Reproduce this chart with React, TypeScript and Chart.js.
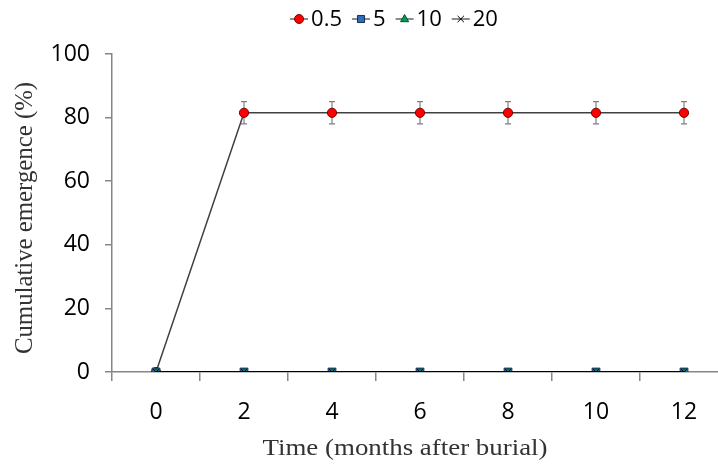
import React, { useEffect, useRef } from 'react';
import { Chart, registerables } from 'chart.js';

Chart.register(...registerables);

const categories = ['0', '2', '4', '6', '8', '10', '12'];
const seriesNames = ['0.5', '5', '10', '20'];
const values05 = [0, 81.5, 81.5, 81.5, 81.5, 81.5, 81.5];
const errors05 = [0, 3.5, 3.5, 3.5, 3.5, 3.5, 3.5];
const values5 = [0, 0, 0, 0, 0, 0, 0];
const values10 = [0, 0, 0, 0, 0, 0, 0];
const values20 = [0, 0, 0, 0, 0, 0, 0];
const yTicks = [0, 20, 40, 60, 80, 100];
const xTitle = 'Time (months after burial)';
const yTitle = 'Cumulative emergence (%)';

const TICK_FONT = '"Open Sans", "Noto Sans", sans-serif';
const TITLE_FONT = '"Liberation Serif", "DejaVu Serif", serif';
const AXIS_GRAY = '#868686';

function drawMarker(ctx: CanvasRenderingContext2D, style: string, x: number, y: number, r: number, fill: string, stroke: string) {
  ctx.save();
  ctx.fillStyle = fill;
  ctx.strokeStyle = stroke;
  ctx.lineWidth = 1;
  ctx.beginPath();
  if (style === 'circle') {
    ctx.arc(x, y, r, 0, Math.PI * 2);
    ctx.fill();
    ctx.stroke();
  } else if (style === 'rect') {
    const s = r * Math.SQRT1_2;
    ctx.rect(x - s, y - s, 2 * s, 2 * s);
    ctx.fill();
    ctx.stroke();
  } else if (style === 'triangle') {
    ctx.moveTo(x, y - r);
    ctx.lineTo(x + r * 0.9, y + r * 0.6);
    ctx.lineTo(x - r * 0.9, y + r * 0.6);
    ctx.closePath();
    ctx.fill();
    ctx.stroke();
  } else if (style === 'crossRot') {
    const s = r * Math.SQRT1_2;
    ctx.moveTo(x - s, y - s);
    ctx.lineTo(x + s, y + s);
    ctx.moveTo(x + s, y - s);
    ctx.lineTo(x - s, y + s);
    ctx.stroke();
  }
  ctx.restore();
}

const errorBarPlugin = {
  id: 'errorBars',
  beforeDatasetsDraw(chart: any) {
    const meta = chart.getDatasetMeta(0);
    const yScale = chart.scales.y;
    const ctx = chart.ctx;
    ctx.save();
    ctx.strokeStyle = '#808080';
    ctx.lineWidth = 1.2;
    meta.data.forEach((pt: any, i: number) => {
      const e = errors05[i];
      if (!e) return;
      const v = values05[i];
      const yTop = yScale.getPixelForValue(v + e);
      const yBot = yScale.getPixelForValue(v - e);
      const x = pt.x;
      ctx.beginPath();
      ctx.moveTo(x, yTop);
      ctx.lineTo(x, yBot);
      ctx.moveTo(x - 3, yTop);
      ctx.lineTo(x + 3, yTop);
      ctx.moveTo(x - 3, yBot);
      ctx.lineTo(x + 3, yBot);
      ctx.stroke();
    });
    ctx.restore();
  },
};

const titlesPlugin = {
  id: 'axisTitles',
  afterDraw(chart: any) {
    const ctx: CanvasRenderingContext2D = chart.ctx;
    ctx.save();
    ctx.fillStyle = '#333';
    ctx.textAlign = 'center';
    ctx.textBaseline = 'middle';
    ctx.font = `24px ${TITLE_FONT}`;
    const w = ctx.measureText(xTitle).width;
    const sx = 285 / w;
    ctx.translate(405, 449);
    ctx.scale(sx, 1);
    ctx.fillText(xTitle, 0, 0);
    ctx.restore();

    ctx.save();
    ctx.fillStyle = '#333';
    ctx.textAlign = 'center';
    ctx.textBaseline = 'middle';
    ctx.translate(25, 218);
    ctx.rotate(-Math.PI / 2);
    ctx.font = `24.8px ${TITLE_FONT}`;
    ctx.fillText(yTitle, 0, 0);
    ctx.restore();
  },
};

const legendPlugin = {
  id: 'customLegend',
  afterDraw(chart: any) {
    const ctx: CanvasRenderingContext2D = chart.ctx;
    ctx.save();
    ctx.font = `22px ${TICK_FONT}`;
    const lineW = 18;
    const gapText = 3;
    const gapItem = 10;
    const datasets = chart.data.datasets;
    const widths = datasets.map((ds: any) => lineW + gapText + ctx.measureText(ds.label).width);
    const total = widths.reduce((a: number, b: number) => a + b, 0) + gapItem * (datasets.length - 1);
    let x = 394 - total / 2;
    const y = 19;
    datasets.forEach((ds: any, i: number) => {
      ctx.strokeStyle = '#404040';
      ctx.lineWidth = 1.2;
      ctx.beginPath();
      ctx.moveTo(x, y);
      ctx.lineTo(x + lineW, y);
      ctx.stroke();
      drawMarker(ctx, ds.pointStyle, x + lineW / 2, y, ds.legendRadius, ds.pointBackgroundColor, ds.pointBorderColor);
      ctx.fillStyle = '#000';
      ctx.textBaseline = 'middle';
      ctx.textAlign = 'left';
      ctx.fillText(ds.label, x + lineW + gapText, y + 1);
      x += widths[i] + gapItem;
    });
    ctx.restore();
  },
};

export default function App() {
  const canvasRef = useRef<HTMLCanvasElement | null>(null);

  useEffect(() => {
    if (!canvasRef.current) return;
    const chart = new Chart(canvasRef.current, {
      type: 'line',
      data: {
        labels: categories,
        datasets: [
          {
            label: seriesNames[0],
            data: values05,
            borderColor: '#404040',
            borderWidth: 1.5,
            pointStyle: 'circle',
            pointRadius: 4.6,
            pointBackgroundColor: '#FF0000',
            pointBorderColor: '#7A0000',
            pointBorderWidth: 1,
            order: 4,
            legendRadius: 4.5,
          } as any,
          {
            label: seriesNames[1],
            data: values5,
            borderColor: '#000000',
            borderWidth: 1.5,
            pointStyle: 'rect',
            pointRadius: 5.5,
            pointBackgroundColor: '#2E6DB8',
            pointBorderColor: '#1A2F50',
            pointBorderWidth: 1,
            order: 3,
            legendRadius: 5,
          } as any,
          {
            label: seriesNames[2],
            data: values10,
            borderColor: '#000000',
            borderWidth: 1.5,
            pointStyle: 'triangle',
            pointRadius: 4,
            pointBackgroundColor: '#00A050',
            pointBorderColor: '#005028',
            pointBorderWidth: 1,
            order: 2,
            legendRadius: 4.5,
          } as any,
          {
            label: seriesNames[3],
            data: values20,
            borderColor: '#000000',
            borderWidth: 1.5,
            pointStyle: 'crossRot',
            pointRadius: 4,
            pointBackgroundColor: '#000000',
            pointBorderColor: '#000000',
            pointBorderWidth: 1,
            order: 1,
            legendRadius: 4.5,
          } as any,
        ],
      },
      options: {
        animation: false,
        responsive: false,
        events: [],
        layout: { padding: { top: 54, left: 0, right: 32, bottom: 0 } },
        plugins: {
          legend: { display: false },
          tooltip: { enabled: false },
        },
        scales: {
          x: {
            type: 'category',
            offset: true,
            grid: {
              offset: true,
              drawOnChartArea: false,
              drawTicks: true,
              tickLength: 9,
              color: AXIS_GRAY,
              lineWidth: 1.5,
            },
            border: { display: true, color: AXIS_GRAY, width: 1.5 },
            ticks: {
              color: '#000',
              font: { family: TICK_FONT, size: 23 },
              padding: 18,
              maxRotation: 0,
            },
            title: { display: false },
            afterFit: (scale: any) => {
              scale.height = 93;
            },
          },
          y: {
            type: 'linear',
            min: 0,
            max: 100,
            afterBuildTicks: (scale: any) => {
              scale.ticks = yTicks.map((v) => ({ value: v }));
            },
            grid: {
              drawOnChartArea: false,
              drawTicks: true,
              tickLength: 7,
              color: AXIS_GRAY,
              lineWidth: 1.5,
            },
            border: { display: true, color: AXIS_GRAY, width: 1.5 },
            ticks: {
              color: '#000',
              font: { family: TICK_FONT, size: 23 },
              padding: 15,
            },
            title: { display: false },
            afterFit: (scale: any) => {
              scale.width = 112;
            },
          },
        },
      },
      plugins: [errorBarPlugin, titlesPlugin, legendPlugin],
    });
    return () => chart.destroy();
  }, []);

  return (
    <div
      style={{
        position: 'fixed',
        left: 0,
        top: 0,
        width: 718,
        height: 465,
        overflow: 'hidden',
        background: '#fff',
      }}
    >
      <canvas ref={canvasRef} width={760} height={465} style={{ display: 'block' }} />
    </div>
  );
}
